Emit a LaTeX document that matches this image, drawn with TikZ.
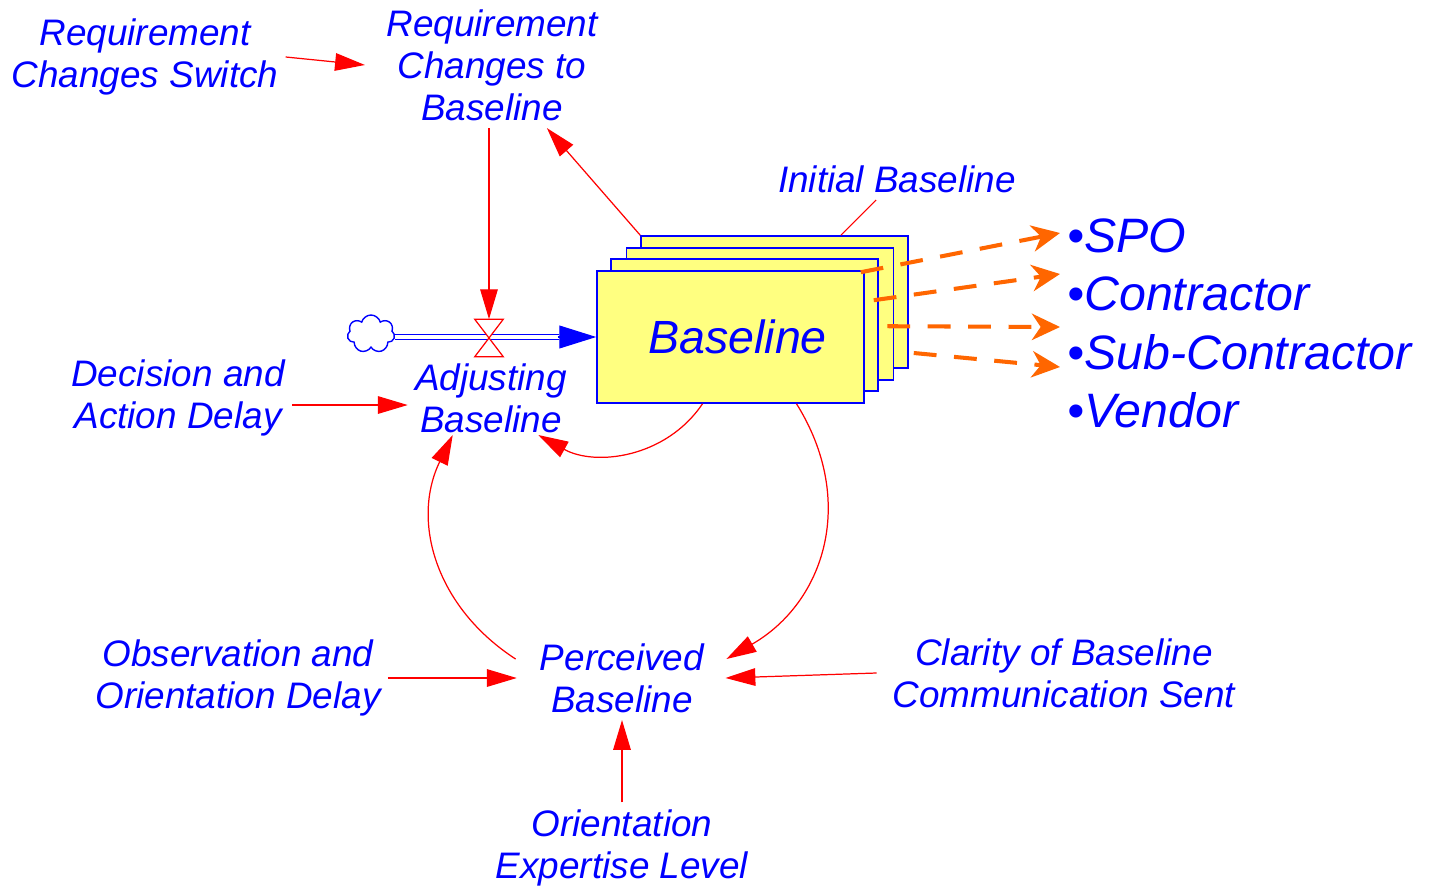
\documentclass[tikz,border=0pt]{standalone}
\usepackage{fontspec}
\setmainfont{Liberation Sans}
\usepackage{tikz}
\usetikzlibrary{
    arrows.meta,
    shapes.symbols,
    calc
}
\definecolor{stockfill}{RGB}{255,255,128}
\definecolor{infoorange}{RGB}{255,102,0}

\begin{document}
\begin{tikzpicture}[
            x=0.02cm, y=0.02cm,
            var/.style={font=\itshape\fontsize{21}{24}\selectfont, text=blue, align=center, inner sep=4pt},
            item/.style={font=\itshape\fontsize{27.5}{33}\selectfont, text=blue, anchor=west, inner sep=4pt},
            stock/.style={draw=blue, line width=0.9pt, fill=stockfill, minimum width=5.34cm, minimum height=2.64cm, inner sep=0pt},
            arr/.style={-{Triangle[length=17pt, width=10pt]}, red, line width=0.7pt},
            tie/.style={red, line width=0.6pt},
            flow/.style={draw=blue, double=white, double distance=2.2pt, line width=0.7pt},
            darr/.style={-{Stealth[length=16pt, width=15pt, inset=5pt]}, infoorange, line width=2.3pt, dash pattern=on 13pt off 10pt}
        ]
            \fill[white] (0,0) rectangle (1429,-888);
            \useasboundingbox (0,0) rectangle (1429,-888);

            % ====== Stock (stacked copies) ======
            \foreach \i/\x/\y in {4/774.5/302, 3/760/314, 2/744.5/325}
                \node[stock] (stock\i) at (\x,-\y) {};
            \node[stock, font=\itshape\fontsize{26.5}{32}\selectfont, text=blue] (stock1) at (730.5,-337) {\hspace*{8pt}Baseline};

            % ====== Inflow with valve ======
            \node[cloud, cloud puffs=7, aspect=1.2, draw=blue, line width=0.8pt,
                  minimum width=0.95cm, minimum height=0.76cm, inner sep=0pt] (src) at (371,-334) {};
            \node[minimum width=0.56cm, minimum height=0.74cm, inner sep=0pt] (valve) at (489,-338) {};

            \draw[flow] (src.east |- stock1.west) -- ([xshift=-21pt]stock1.west);
            \draw[-{Triangle[length=21pt, width=13pt]}, blue, line width=0.7pt]
                ([xshift=-22pt]stock1.west) -- (stock1.west);
            \draw[red, line width=0.7pt, fill=white]
                (valve.north west) -- (valve.north east) -- (valve.south west) -- (valve.south east) -- cycle;

            % ====== Variables ======
            \node[var] (sw) at (145,-57) {Requirement\\Changes Switch};
            \node[var] (rcb) at (492,-65) {Requirement\\Changes to\\Baseline};
            \node[var] (init) at (897,-179) {Initial Baseline};
            \node[var] (adj) at (491,-398) {Adjusting\\Baseline};
            \node[var] (dec) at (178,-398) {Decision and\\Action Delay};
            \node[var] (perc) at (622,-678) {Perceived\\Baseline};
            \node[var] (obs) at (238,-678) {Observation and\\Orientation Delay};
            \node[var] (clar) at (1064,-673) {Clarity of Baseline\\Communication Sent};
            \node[var] (ori) at (622,-848) {Orientation\\Expertise Level};

            \node[item] (spo) at (1060,-236) {•SPO};
            \node[item] (con) at (1060,-294) {•Contractor};
            \node[item] (sub) at (1060,-352) {•Sub-Contractor};
            \node[item] (ven) at (1060,-410) {•Vendor};

            % ====== Causal links ======
            \draw[arr] (sw.east) -- ([xshift=-8pt]rcb.west);
            \draw[arr] (rcb.south -| valve.north) -- (valve.north);
            \draw[arr] (stock4.north west) -- (rcb);
            \draw[tie] (init) -- (stock4);
            \draw[arr] ([yshift=-4pt]dec.east) -- ([yshift=-4pt]adj.west);
            \draw[arr] (obs.east) -- ([xshift=-9pt]perc.west);
            \draw[arr] ([xshift=-5pt]clar.west) -- ([xshift=8pt]perc.east);
            \draw[arr] (ori.north) -- (perc.south);

            \draw[arr] ($(stock1.south)+(-28,0)$) to[out=-124, in=-29, looseness=1] ($(adj.south east)+(-36,5)$);
            \draw[arr] ($(stock1.south)+(66,0)$) to[out=-58, in=30, looseness=1.1] ($(perc.east)+(15,19)$);
            \draw[arr] ($(perc.west)+(-17,19)$) to[out=147, in=-116, looseness=1.05] ($(adj.south west)+(45,5)$);

            % ====== Communication to stakeholders ======
            \draw[darr] ($(stock1.north east)+(-4,-2)$) -- ($(spo.west)+(0,3)$);
            \draw[darr] ($(stock2.north east)+(-5,-42)$) -- ($(con.west)+(0,20)$);
            \draw[darr] ($(stock3.north east)+(-7,-79)$) -- ($(sub.west)+(0,25)$);
            \draw[darr] ($(stock4.east)+(5,-51)$) -- ($(sub.west)+(0,-15)$);
        \end{tikzpicture}
\end{document}
